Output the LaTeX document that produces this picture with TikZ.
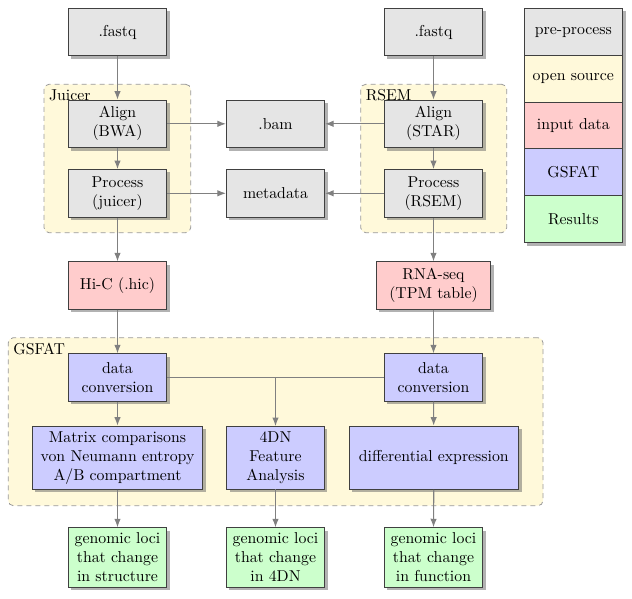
\documentclass[tikz,border=0pt]{standalone}
\usepackage{fontspec}
\setmainfont{lmroman10-regular.otf}
\usetikzlibrary{arrows.meta,shadows}
\definecolor{cgray}{HTML}{E5E5E5}
\definecolor{cyellow}{HTML}{FFF9DA}
\definecolor{cred}{HTML}{FFCCCC}
\definecolor{cblue}{HTML}{CCCCFF}
\definecolor{cgreen}{HTML}{CCFFCC}
\newcommand{\lmsize}{\fontsize{15.8}{19}\selectfont}
\tikzset{
  box/.style={draw=black!75, line width=0.8pt, minimum width=98.4pt, minimum height=47.6pt,
    align=center, inner sep=5.27pt, font=\lmsize,
    drop shadow={shadow xshift=3pt, shadow yshift=-3pt, fill=black!60, opacity=0.5}},
  prebox/.style={box, fill=cgray},
  inbox/.style={box, fill=cred},
  gsbox/.style={box, fill=cblue},
  resbox/.style={box, fill=cgreen},
  srcbox/.style={box, fill=cyellow},
  container/.style={draw=black!40, dash pattern=on 5pt off 4pt, line width=0.8pt, fill=cyellow,
    rounded corners=5pt, inner sep=0pt},
  grouplabel/.style={anchor=north west, inner sep=5.27pt, font=\lmsize},
  arr/.style={draw=black!50, line width=1.1pt, -{Latex[length=8.5pt,width=6.5pt]}},
  plainline/.style={draw=black!50, line width=1.1pt}
}
\begin{document}
\begin{tikzpicture}[x=1pt,y=-1pt]
\useasboundingbox (0,0) rectangle (632,599);
% containers
\node[container, minimum width=146.7pt, minimum height=148.4pt] (juicerc) at (117.35,158.5) {};
\node[grouplabel] (juicerl) at (juicerc.north west) {Juicer};
\node[container, minimum width=146pt, minimum height=148.4pt] (rsemc) at (433.7,158.5) {};
\node[grouplabel] (rseml) at (rsemc.north west) {RSEM};
\node[container, minimum width=534.7pt, minimum height=168pt] (gsfatc) at (275.65,421.7) {};
\node[grouplabel] (gsfatl) at (gsfatc.north west) {GSFAT};
% pre-process
\node[prebox] (fq1) at (117.5,32) {.fastq};
\node[prebox] (fq2) at (433.5,32) {.fastq};
\node[prebox] (bwa) at (117.5,123.8) {Align\\(BWA)};
\node[prebox] (juicer) at (117.5,193.3) {Process\\(juicer)};
\node[prebox] (bam) at (275.5,123.8) {.bam};
\node[prebox] (meta) at (275.5,193.3) {metadata};
\node[prebox] (star) at (433.5,123.8) {Align\\(STAR)};
\node[prebox] (rsem) at (433.5,193.3) {Process\\(RSEM)};
% input data
\node[inbox] (hic) at (117.5,285.5) {Hi-C (.hic)};
\node[inbox, minimum width=114.4pt] (rna) at (433.5,285.5) {RNA-seq\\(TPM table)};
% GSFAT
\node[gsbox] (dc1) at (117.5,377.5) {data\\conversion};
\node[gsbox] (dc2) at (433.5,377.5) {data\\conversion};
\node[gsbox, minimum width=170.4pt] (mat) at (117.5,457.7) {Matrix comparisons\\von Neumann entropy\\A/B compartment};
\node[gsbox, minimum width=97.6pt] (fdn) at (275.5,457.7) {4DN\\Feature\\Analysis};
\node[gsbox, minimum width=169.7pt, minimum height=63.3pt] (diff) at (433.8,457.7) {differential expression};
% results
\node[resbox] (g1) at (117.5,557.5) {genomic loci\\that change\\in structure};
\node[resbox] (g2) at (275.5,557.5) {genomic loci\\that change\\in 4DN};
\node[resbox] (g3) at (433.5,557.5) {genomic loci\\that change\\in function};
% legend
\node[prebox, minimum height=47pt] (lg1) at (573.3,32) {pre-process};
\node[srcbox, minimum height=47pt] (lg2) at (573.3,78.9) {open source};
\node[inbox, minimum height=47pt] (lg3) at (573.3,125.6) {input data};
\node[gsbox, minimum height=47pt] (lg4) at (573.3,172.3) {GSFAT};
\node[resbox, minimum height=47pt] (lg5) at (573.3,219) {Results};
% connectors
\draw[arr] (fq1) -- (bwa);
\draw[arr] (bwa) -- (juicer);
\draw[arr] (juicer) -- (hic);
\draw[arr] (hic) -- (dc1);
\draw[arr] (dc1) -- (mat);
\draw[arr] (mat) -- (g1);
\draw[arr] (fq2) -- (star);
\draw[arr] (star) -- (rsem);
\draw[arr] (rsem) -- (rna);
\draw[arr] (rna) -- (dc2);
\draw[arr] (dc2) -- (diff);
\draw[arr] (diff.south) -- (g3.north);
\draw[arr] (bwa) -- (bam);
\draw[arr] (juicer) -- (meta);
\draw[arr] (star) -- (bam);
\draw[arr] (rsem) -- (meta);
\draw[plainline] (dc1.east) -- (dc2.west);
\coordinate (split) at (fdn |- dc1.east);
\draw[arr] (split) -- (fdn.north);
\draw[arr] (fdn) -- (g2);
\end{tikzpicture}
\end{document}
